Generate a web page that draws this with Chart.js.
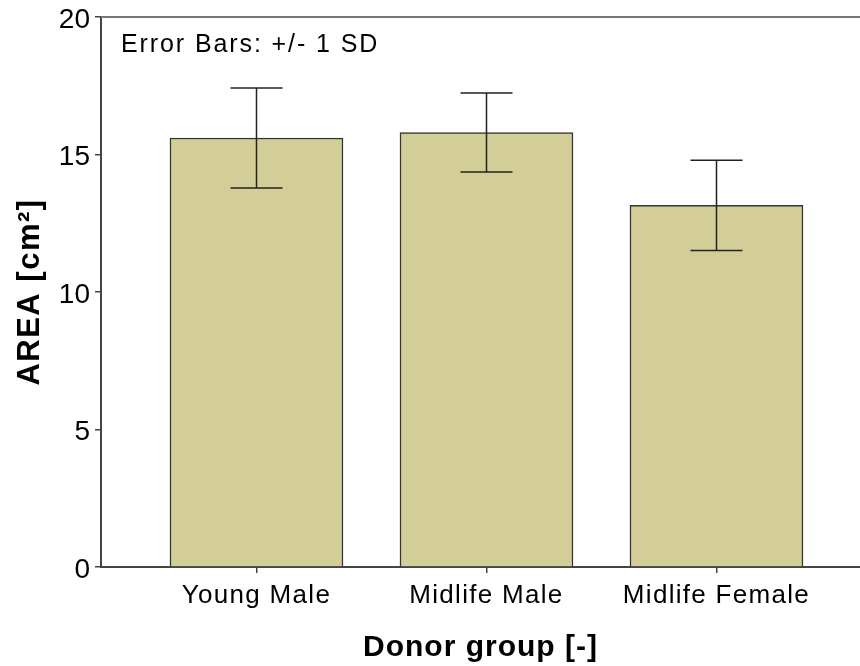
<!DOCTYPE html>
<html>
<head>
<meta charset="utf-8">
<script src="https://cdn.jsdelivr.net/npm/chart.js@4/dist/chart.umd.min.js"></script>
<style>
  html, body { margin: 0; padding: 0; background: #fff; overflow: hidden; }
  #wrap { width: 860px; height: 666px; }
</style>
</head>
<body>
<div id="wrap"><canvas id="c" width="860" height="666"></canvas></div>
<script>
// Mean wound area per donor group with one standard deviation
const groups = ['Young Male', 'Midlife Male', 'Midlife Female'];
const meanArea = [15.60, 15.80, 13.15];
const sdArea = [1.82, 1.44, 1.64];
const yTickValues = [0, 5, 10, 15, 20];
const noteText = 'Error Bars: +/- 1 SD';
const xTitle = 'Donor group [-]';
const yTitle = 'AREA [cm\u00B2]';

const FONT = "'Liberation Sans', Arial, Helvetica, sans-serif";
const AXIS = '#444';

// wrap a scale's text drawing so it runs with extra letter spacing
function spaced(scale, method, spacing) {
  const key = '_sp_' + method;
  if (scale[key]) return;
  const orig = scale[method].bind(scale);
  scale[method] = function (...args) {
    const ctx = this.ctx;
    ctx.save();
    ctx.letterSpacing = spacing;
    orig(...args);
    ctx.restore();
  };
  scale[key] = true;
}

// whiskers and caps at mean +/- SD
const errorBars = {
  id: 'errorBars',
  afterDatasetsDraw(chart) {
    const { ctx } = chart;
    const y = chart.scales.y;
    const meta = chart.getDatasetMeta(0);
    ctx.save();
    ctx.strokeStyle = '#222';
    ctx.lineWidth = 1.5;
    meta.data.forEach((bar, i) => {
      const x = Math.round(bar.x) + 0.5;
      const yt = y.getPixelForValue(meanArea[i] + sdArea[i]);
      const yb = y.getPixelForValue(meanArea[i] - sdArea[i]);
      const cap = 26;
      ctx.beginPath();
      ctx.moveTo(x, yt); ctx.lineTo(x, yb);
      ctx.moveTo(x - cap, yt); ctx.lineTo(x + cap, yt);
      ctx.moveTo(x - cap, yb); ctx.lineTo(x + cap, yb);
      ctx.stroke();
    });
    ctx.restore();
  }
};

// top frame line and the note in the upper left corner
const frameNote = {
  id: 'frameNote',
  afterDraw(chart) {
    const { ctx, chartArea } = chart;
    ctx.save();
    ctx.strokeStyle = '#777';
    ctx.lineWidth = 2;
    ctx.beginPath();
    ctx.moveTo(chartArea.left, chartArea.top);
    ctx.lineTo(chartArea.right, chartArea.top);
    ctx.stroke();
    ctx.fillStyle = '#000';
    ctx.font = '25px ' + FONT;
    ctx.letterSpacing = '1.9px';
    ctx.textAlign = 'left';
    ctx.textBaseline = 'alphabetic';
    ctx.fillText(noteText, chartArea.left + 20, chartArea.top + 35);
    ctx.restore();
  }
};

new Chart(document.getElementById('c'), {
  type: 'bar',
  data: {
    datasets: [{
      data: groups.map((g, i) => ({ x: i + 1, y: meanArea[i] })),
      backgroundColor: '#D3CE97',
      borderColor: '#333',
      borderWidth: 1.5,
      barThickness: 173
    }]
  },
  options: {
    responsive: false,
    animation: false,
    devicePixelRatio: 1,
    layout: { padding: { top: 17, right: 0, left: 0, bottom: 0 } },
    plugins: { legend: { display: false }, tooltip: { enabled: false } },
    scales: {
      x: {
        type: 'linear',
        offset: false,
        min: 0.324,
        max: 3.624,
        afterBuildTicks(scale) {
          scale.ticks = groups.map((g, i) => ({ value: i + 1 }));
        },
        afterFit(scale) { scale.height = 99; },
        afterUpdate(scale) {
          spaced(scale, 'drawLabels', '1.3px');
          spaced(scale, 'drawTitle', '1px');
        },
        ticks: {
          callback: (v) => groups[v - 1],
          autoSkip: false,
          maxRotation: 0,
          padding: 7,
          color: '#000',
          font: { family: FONT, size: 26 }
        },
        grid: { offset: false, drawOnChartArea: false, drawTicks: true, tickLength: 6, color: AXIS, lineWidth: 1.5 },
        border: { display: true, color: AXIS, width: 2 },
        title: {
          display: true,
          text: xTitle,
          color: '#000',
          padding: { top: 0, bottom: 0 },
          font: { family: FONT, size: 30, weight: 'bold' }
        }
      },
      y: {
        min: 0,
        max: 20,
        afterBuildTicks(scale) {
          scale.ticks = yTickValues.map(v => ({ value: v }));
        },
        afterFit(scale) {
          scale.width = 101;
          scale.paddingTop = 0;
          scale.paddingBottom = 0;
        },
        afterUpdate(scale) {
          spaced(scale, 'drawTitle', '1.5px');
        },
        ticks: {
          padding: 5,
          labelOffset: 3,
          color: '#000',
          font: { family: FONT, size: 28, lineHeight: 1 }
        },
        grid: { drawOnChartArea: false, drawTicks: true, tickLength: 6, color: AXIS, lineWidth: 1.5 },
        border: { display: true, color: AXIS, width: 2 },
        title: {
          display: true,
          text: yTitle,
          color: '#000',
          padding: { top: 12, bottom: 0 },
          font: { family: FONT, size: 31, weight: 'bold' }
        }
      }
    }
  },
  plugins: [errorBars, frameNote]
});
</script>
</body>
</html>
